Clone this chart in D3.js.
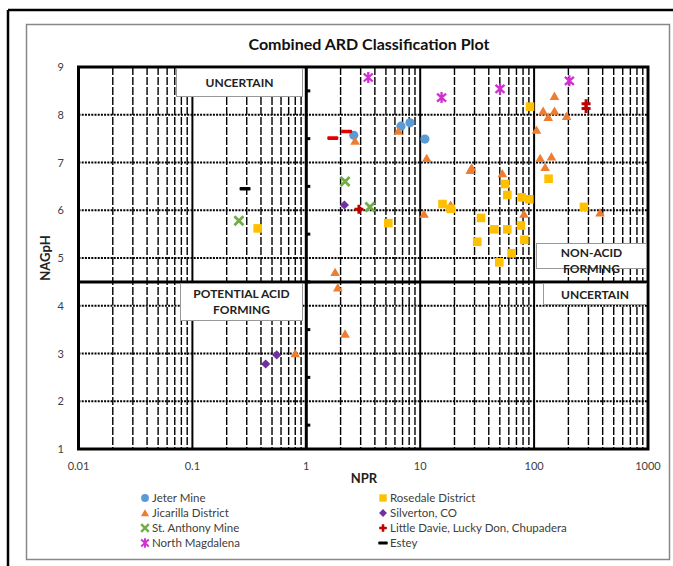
<!DOCTYPE html>
<html>
<head>
<meta charset="utf-8">
<script src="https://d3js.org/d3.v7.min.js"></script>
<style>
  body { margin: 0; background: #fff; }
  text { font-family: Lato, "Open Sans", sans-serif; }
</style>
</head>
<body>
<div id="graph"></div>
<script>

// data: [NPR, NAGpH]
var jeterMine = [[2.61, 7.57], [6.78, 7.76], [8.13, 7.83], [11.0, 7.49]];
var jicarilla = [[2.68, 7.45], [6.43, 7.66], [11.4, 7.09], [28.3, 6.89], [27.5, 6.84],
  [52.6, 6.77], [18.5, 6.11], [10.8, 5.92], [81.5, 5.92], [105, 7.68], [120, 8.08],
  [133, 7.95], [151, 8.08], [151, 8.39], [193, 7.97], [113, 7.09], [142, 7.12],
  [125, 6.90], [379, 5.95], [1.79, 4.70], [1.89, 4.38], [2.19, 3.41], [0.80, 3.00]];
var stAnthony = [[0.256, 5.78], [2.19, 6.60], [3.62, 6.07]];
var northMagdalena = [[3.50, 8.78], [15.4, 8.36], [50.2, 8.54], [204, 8.71]];
var rosedale = [[0.374, 5.62], [5.25, 5.73], [15.7, 6.13], [18.5, 6.03], [34.2, 5.84],
  [31.7, 5.34], [44.8, 5.60], [58.2, 5.60], [55.6, 6.55], [58.2, 6.32], [77.8, 6.27],
  [90.7, 6.23], [76.7, 5.68], [82.1, 5.38], [63.5, 5.10], [49.5, 4.91], [92.1, 8.17],
  [134, 6.66], [274, 6.07]];
var silverton = [[0.44, 2.78], [0.55, 2.97], [2.16, 6.11]];
var littleDavie = [[2.90, 6.02], [286, 8.23], [286, 8.13]];
var littleDavieDash = [[1.71, 7.51], [2.26, 7.65]];
var estey = [[0.29, 6.45]];

var xTicks = [0.01, 0.1, 1, 10, 100, 1000];
var xTickLabels = ["0.01", "0.1", "1", "10", "100", "1000"];
var yTicks = [1, 2, 3, 4, 5, 6, 7, 8, 9];

var series = [
  {name: "Jeter Mine", data: jeterMine, shape: "circle", color: "#5b9bd5"},
  {name: "Jicarilla District", data: jicarilla, shape: "triangle", color: "#ed7d31"},
  {name: "St. Anthony Mine", data: stAnthony, shape: "x", color: "#70ad47"},
  {name: "North Magdalena", data: northMagdalena, shape: "star", color: "#d030d0"},
  {name: "Rosedale District", data: rosedale, shape: "square", color: "#ffc000"},
  {name: "Silverton, CO", data: silverton, shape: "diamond", color: "#7030a0"},
  {name: "Little Davie, Lucky Don, Chupadera", data: littleDavie, shape: "plus", color: "#c00000"},
  {name: "Estey", data: estey, shape: "dash", color: "#000"}
];

var W = 673, H = 566;
var svg = d3.select("#graph").append("svg")
  .attr("width", W).attr("height", H);

// outer frames
svg.append("line").attr("x1", 8).attr("x2", W).attr("y1", 10).attr("y2", 10)
  .attr("stroke", "#000").attr("stroke-width", 2.5);
svg.append("line").attr("x1", 8).attr("x2", 8).attr("y1", 10).attr("y2", H)
  .attr("stroke", "#000").attr("stroke-width", 2.5);
svg.append("rect").attr("x", 26.5).attr("y", 24.5).attr("width", 643).attr("height", 535)
  .attr("fill", "#fff").attr("stroke", "#888").attr("stroke-width", 1.5);

var x = d3.scaleLog().domain([0.01, 1000]).range([78.5, 648]);
var y = d3.scaleLinear().domain([1, 9]).range([449, 67]);

var g = svg.append("g");

// vertical minor gridlines
var minor = [];
[0.01, 0.1, 1, 10, 100].forEach(function(d) {
  for (var k = 2; k <= 9; k++) minor.push(d * k);
});
g.selectAll(".vminor").data(minor).enter().append("line")
  .attr("x1", function(d) { return x(d); }).attr("x2", function(d) { return x(d); })
  .attr("y1", y(9)).attr("y2", y(1))
  .attr("stroke", "#000").attr("stroke-width", 1.4).attr("stroke-dasharray", "8,2");

// decade lines
g.selectAll(".vmajor").data([0.1, 10, 100]).enter().append("line")
  .attr("x1", function(d) { return x(d); }).attr("x2", function(d) { return x(d); })
  .attr("y1", y(9)).attr("y2", y(1))
  .attr("stroke", "#000").attr("stroke-width", 2);

// horizontal gridlines
g.selectAll(".hgrid").data(yTicks.slice(1, -1)).enter().append("line")
  .attr("x1", x(0.01)).attr("x2", x(1000))
  .attr("y1", function(d) { return y(d); }).attr("y2", function(d) { return y(d); })
  .attr("stroke", "#000").attr("stroke-width", 2).attr("stroke-dasharray", "2,1.2");

// classification dividers
g.append("line").attr("x1", x(1)).attr("x2", x(1)).attr("y1", y(9)).attr("y2", y(1))
  .attr("stroke", "#000").attr("stroke-width", 3);
g.append("line").attr("x1", x(0.01)).attr("x2", x(1000)).attr("y1", y(4.5)).attr("y2", y(4.5))
  .attr("stroke", "#000").attr("stroke-width", 3);

// y axis minor ticks along NPR = 1
var halfTicks = d3.range(1.5, 9, 1);
g.selectAll(".ytick").data(halfTicks).enter().append("line")
  .attr("x1", x(1)).attr("x2", x(1) + 4)
  .attr("y1", function(d) { return y(d); }).attr("y2", function(d) { return y(d); })
  .attr("stroke", "#000").attr("stroke-width", 3);

// plot frame
g.append("rect").attr("x", x(0.01)).attr("y", y(9))
  .attr("width", x(1000) - x(0.01)).attr("height", y(1) - y(9))
  .attr("fill", "none").attr("stroke", "#000").attr("stroke-width", 3);

// region labels
function box(x0, y0, w, h, lines, dy) {
  svg.append("rect").attr("x", x0).attr("y", y0).attr("width", w).attr("height", h)
    .attr("fill", "#fff").attr("stroke", "#999").attr("stroke-width", 1);
  lines.forEach(function(t, i) {
    svg.append("text").attr("x", x0 + w / 2).attr("y", y0 + dy + i * 16)
      .attr("text-anchor", "middle").attr("font-size", 12).attr("font-weight", "bold")
      .attr("fill", "#222").text(t);
  });
}
box(176.5, 68.5, 126, 28, ["UNCERTAIN"], 18.5);
box(180.5, 283.5, 122, 37, ["POTENTIAL ACID", "FORMING"], 14.5);
box(536.5, 243.5, 110, 25, ["NON-ACID", "FORMING"], 13);
box(543.5, 283.5, 103, 21, ["UNCERTAIN"], 15);

// markers
function drawMarker(sel, shape, color) {
  if (shape === "circle") {
    sel.append("circle").attr("r", 4.6).attr("fill", color);
  } else if (shape === "triangle") {
    sel.append("path").attr("d", d3.symbol(d3.symbolTriangle, 40)()).attr("fill", color)
      .attr("transform", "translate(0,1)");
  } else if (shape === "square") {
    sel.append("rect").attr("x", -4.3).attr("y", -4.3).attr("width", 8.6).attr("height", 8.6)
      .attr("fill", color);
  } else if (shape === "diamond") {
    sel.append("path").attr("d", "M0,-4.6L4.6,0L0,4.6L-4.6,0Z").attr("fill", color);
  } else if (shape === "x") {
    sel.append("path").attr("d", "M-4.5,-4.5L4.5,4.5M-4.5,4.5L4.5,-4.5")
      .attr("stroke", color).attr("stroke-width", 2.8).attr("fill", "none");
  } else if (shape === "star") {
    sel.append("path").attr("d", "M-4.5,-4L4.5,4M-4.5,4L4.5,-4M0,-5.5L0,5.5")
      .attr("stroke", color).attr("stroke-width", 2.3).attr("fill", "none");
  } else if (shape === "plus") {
    sel.append("path").attr("d", "M-4.5,0L4.5,0M0,-4.5L0,4.5")
      .attr("stroke", color).attr("stroke-width", 3).attr("fill", "none");
  } else if (shape === "dash") {
    sel.append("rect").attr("x", -5.5).attr("y", -1.8).attr("width", 11).attr("height", 3.6)
      .attr("rx", 1).attr("fill", color);
  }
}

var pts = svg.append("g");
series.forEach(function(s) {
  s.data.forEach(function(d) {
    var m = pts.append("g").attr("transform", "translate(" + x(d[0]) + "," + y(d[1]) + ")");
    drawMarker(m, s.shape, s.color);
  });
});
littleDavieDash.forEach(function(d) {
  var m = pts.append("g").attr("transform", "translate(" + x(d[0]) + "," + y(d[1]) + ")");
  drawMarker(m, "dash", "#e00000");
});

// tick labels
svg.selectAll(".xl").data(xTicks).enter().append("text")
  .attr("x", function(d) { return x(d); }).attr("y", 470)
  .attr("text-anchor", "middle").attr("font-size", 11).attr("fill", "#404040")
  .text(function(d, i) { return xTickLabels[i]; });
svg.selectAll(".yl").data(yTicks).enter().append("text")
  .attr("x", 64).attr("y", function(d) { return y(d) + 4; })
  .attr("text-anchor", "end").attr("font-size", 11).attr("fill", "#404040")
  .text(function(d) { return d; });

// titles
svg.append("text").attr("x", 369).attr("y", 50).attr("text-anchor", "middle")
  .attr("font-size", 16).attr("font-weight", "bold").attr("fill", "#111")
  .text("Combined ARD Classification Plot");
svg.append("text").attr("x", 364).attr("y", 483).attr("text-anchor", "middle")
  .attr("font-size", 13).attr("font-weight", "bold").attr("fill", "#222").text("NPR");
svg.append("text").attr("transform", "translate(50,258) rotate(-90)")
  .attr("text-anchor", "middle").attr("font-size", 13).attr("font-weight", "bold")
  .attr("fill", "#222").text("NAGpH");

// legend
var legend = svg.selectAll(".leg").data(series).enter().append("g")
  .attr("transform", function(d, i) {
    return "translate(" + (i < 4 ? 145 : 383) + "," + (498 + (i % 4) * 15) + ")";
  });
legend.each(function(d) {
  var m = d3.select(this).append("g").attr("transform", "scale(0.85)");
  drawMarker(m, d.shape, d.color);
});
legend.append("text").attr("x", 7).attr("y", 4).attr("font-size", 11.5)
  .attr("fill", "#404040").text(function(d) { return d.name; });

</script>
</body>
</html>
